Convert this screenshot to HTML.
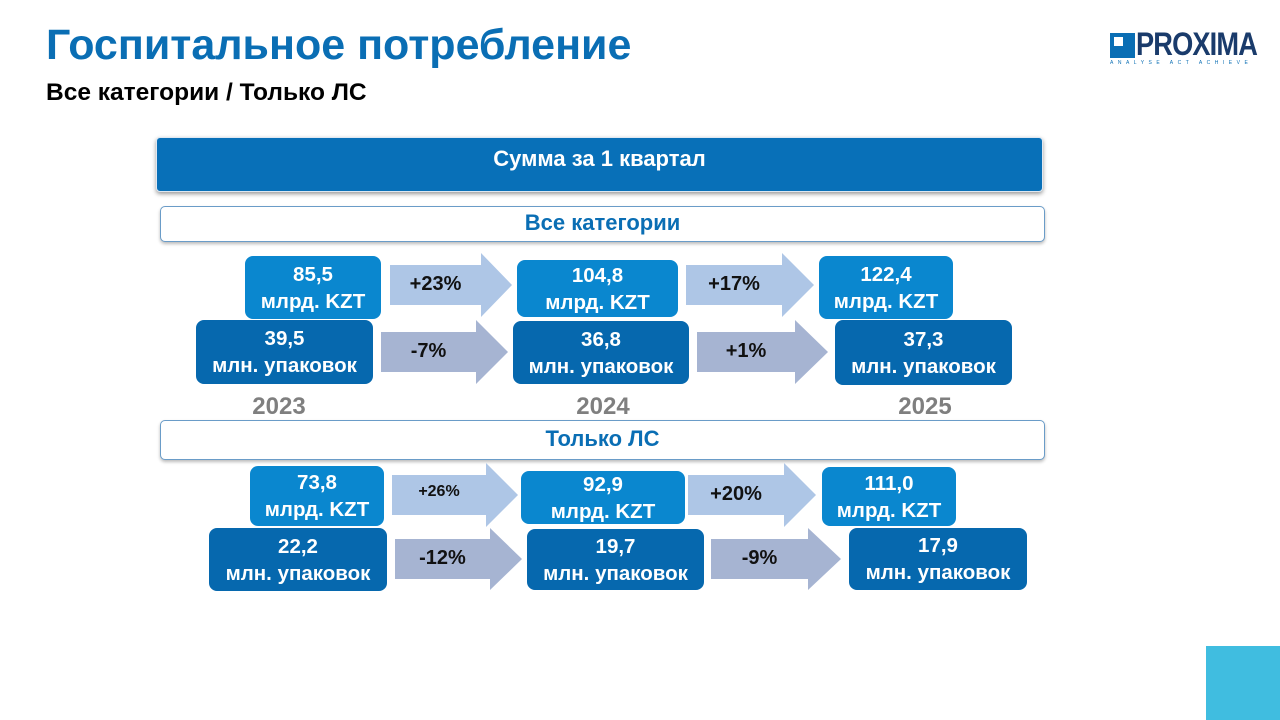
<!DOCTYPE html>
<html><head><meta charset="utf-8">
<style>
html,body{margin:0;padding:0;}
body{width:1280px;height:720px;position:relative;background:#fff;overflow:hidden;font-family:"Liberation Sans","DejaVu Sans",sans-serif;}
.abs{position:absolute;}
.box{position:absolute;border-radius:9px;color:#fff;font-weight:bold;font-size:20.5px;line-height:27px;text-align:center;display:flex;flex-direction:column;justify-content:center;box-sizing:border-box;border:1px solid #fff;}
.kzt{background:#0a87cf;}
.pk{background:#0668ae;}
.arrow{position:absolute;}
.atxt{position:absolute;font-weight:bold;font-size:20px;color:#111;text-align:center;}
.year{position:absolute;font-weight:bold;font-size:24px;color:#7f7f7f;width:120px;text-align:center;}
.band{position:absolute;left:160px;width:885px;background:#fff;border:1px solid #6a9cc8;border-radius:5px;box-shadow:0 2px 3px #bbb;color:#0a6eb4;font-weight:bold;font-size:22px;text-align:center;box-sizing:border-box;}
</style></head><body>
<div class="abs" style="left:46px;top:21px;font-size:43px;font-weight:bold;color:#0a6eb4;">Госпитальное потребление</div>
<div class="abs" style="left:46px;top:79px;font-size:24.5px;font-weight:bold;color:#000;">Все категории / Только ЛС</div>
<div class="abs" style="left:1110px;top:26px;width:150px;height:44px;">
  <div class="abs" style="left:0;top:7px;width:25px;height:25px;background:#0a6eb4;"></div>
  <div class="abs" style="left:4px;top:11px;width:9px;height:9px;background:#fff;"></div>
  <div class="abs" style="left:26px;top:0px;font-size:32px;font-weight:bold;color:#1a3b6b;letter-spacing:-1px;transform:scaleX(0.85);transform-origin:left;">PROXIMA</div>
  <div class="abs" style="left:0;top:34px;font-size:5px;color:#0a6eb4;letter-spacing:4.5px;">ANALYSE ACT ACHIEVE</div>
</div>
<div class="abs" style="left:156px;top:137px;width:887px;height:55px;background:#0870b8;border:1px solid #dfe8f2;border-radius:4px;box-shadow:0 2px 4px #999;color:#fff;font-size:22px;font-weight:bold;text-align:center;line-height:42px;box-sizing:border-box;">Сумма за 1 квартал</div>
<div class="band" style="top:206px;height:36px;line-height:32px;">Все категории</div>
<div class="band" style="top:420px;height:40px;line-height:36px;">Только ЛС</div>
<div class="abs" style="left:1206px;top:646px;width:74px;height:74px;background:#40bde0;"></div>
<div id="root"></div>
<script>
const years=["2023","2024","2025"];
const allKzt=["85,5","104,8","122,4"];
const allPacks=["39,5","36,8","37,3"];
const allKztChg=["+23%","+17%"];
const allPacksChg=["-7%","+1%"];
const lsKzt=["73,8","92,9","111,0"];
const lsPacks=["22,2","19,7","17,9"];
const lsKztChg=["+26%","+20%"];
const lsPacksChg=["-12%","-9%"];

const root=document.getElementById('root');
function box(cls,l,t,w,h,val,unit,name){
  const d=document.createElement('div');
  d.className='box '+cls;
  d.style.cssText=`left:${l}px;top:${t}px;width:${w}px;height:${h}px;`;
  d.innerHTML=`<div>${val}</div><div>${unit}</div>`;
  
  
  root.appendChild(d);
}
function arrow(l,t,w,h,bodyH,color,txt,name,fs){
  const s=document.createElementNS('http://www.w3.org/2000/svg','svg');
  s.setAttribute('class','arrow');
  s.setAttribute('width',w);s.setAttribute('height',h);
  s.style.left=l+'px';s.style.top=t+'px';
  const head=Math.round(w*0.25);
  const y1=(h-bodyH)/2,y2=(h+bodyH)/2;
  const p=document.createElementNS('http://www.w3.org/2000/svg','polygon');
  p.setAttribute('points',`0,${y1} ${w-head},${y1} ${w-head},0 ${w},${h/2} ${w-head},${h} ${w-head},${y2} 0,${y2}`);
  p.setAttribute('fill',color);
  s.appendChild(p);
  
  
  root.appendChild(s);
  const t2=document.createElement('div');
  t2.className='atxt';
  t2.style.cssText=`left:${l}px;top:${t+h/2-12}px;width:${w-head}px;font-size:${fs||20}px;`;
  t2.textContent=txt;
  
  
  root.appendChild(t2);
}
const topKztBox=[[244,255,138,65],[516,259,163,59],[818,255,136,65]];
const topPkBox=[[195,319,179,66],[512,320,178,65],[834,319,179,67]];
const topKztArr=[[390,253,122,64],[686,253,128,64]];
const topPkArr=[[381,320,127,64],[697,320,131,64]];
const yearPos=[[219,393],[543,393],[865,393]];
const lsKztBox=[[249,465,136,62],[520,470,166,55],[821,466,136,61]];
const lsPkBox=[[208,527,180,65],[526,528,179,63],[848,527,180,64]];
const lsKztArr=[[392,463,126,64],[688,463,128,64]];
const lsPkArr=[[395,528,127,62],[711,528,130,62]];

for(let i=0;i<3;i++){
  let g=topPkBox[i];box('pk',g[0],g[1],g[2],g[3],allPacks[i],'млн. упаковок','all-packs-'+years[i]);
  g=topKztBox[i];box('kzt',g[0],g[1],g[2],g[3],allKzt[i],'млрд. KZT','all-kzt-'+years[i]);
  g=lsPkBox[i];box('pk',g[0],g[1],g[2],g[3],lsPacks[i],'млн. упаковок','ls-packs-'+years[i]);
  g=lsKztBox[i];box('kzt',g[0],g[1],g[2],g[3],lsKzt[i],'млрд. KZT','ls-kzt-'+years[i]);
  const y=document.createElement('div');
  y.className='year';y.style.left=yearPos[i][0]+'px';y.style.top=yearPos[i][1]+'px';
  y.textContent=years[i];
  
  
  root.appendChild(y);
}
for(let i=0;i<2;i++){
  let g=topKztArr[i];arrow(g[0],g[1],g[2],g[3],40,'#aec6e6',allKztChg[i],'all-kzt-change-'+i);
  g=topPkArr[i];arrow(g[0],g[1],g[2],g[3],40,'#a6b4d2',allPacksChg[i],'all-packs-change-'+i);
  g=lsKztArr[i];arrow(g[0],g[1],g[2],g[3],40,'#aec6e6',lsKztChg[i],'ls-kzt-change-'+i,i==0?16:20);
  g=lsPkArr[i];arrow(g[0],g[1],g[2],g[3],40,'#a6b4d2',lsPacksChg[i],'ls-packs-change-'+i);
}
</script>
</body></html>
